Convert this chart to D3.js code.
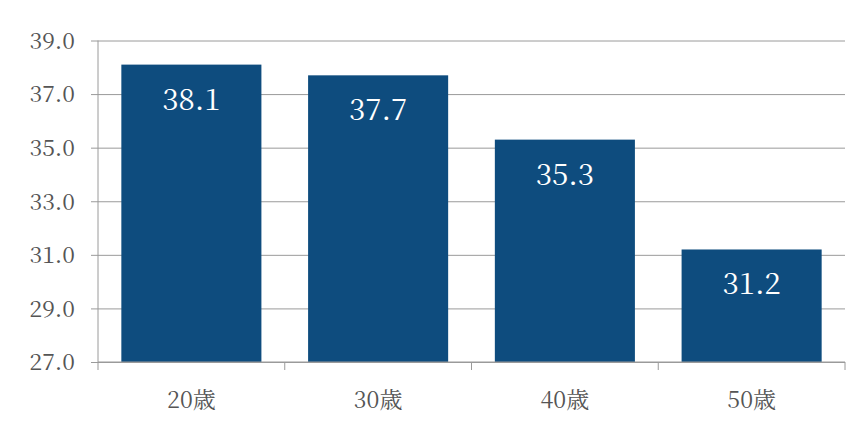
<!DOCTYPE html>
<html><head><meta charset="utf-8">
<script src="https://cdn.jsdelivr.net/npm/d3@7"></script>
<style>body{margin:0;background:#fff}</style>
</head><body>
<svg id="c" width="868" height="428"></svg>
<script>
const categories = ["20歳", "30歳", "40歳", "50歳"];
const values = [38.1, 37.7, 35.3, 31.2];
const yTicks = [27, 29, 31, 33, 35, 37, 39];

(function () {
const svg = d3.select("#c");
const mLeft = 98, mRight = 845, mTop = 40.5, mBottom = 362;
const font = "'Noto Serif CJK JP', 'Liberation Serif', serif";

const x = d3.scaleBand().domain(categories).range([mLeft, mRight]).paddingInner(0.25).paddingOuter(0.125);
const y = d3.scaleLinear().domain([27, 39]).range([mBottom, mTop]);

// gridlines + y ticks
const yAxis = d3.axisLeft(y).tickValues(yTicks).tickSize(-(mRight - mLeft)).tickFormat(d3.format(".1f")).tickPadding(0);
const gy = svg.append("g").attr("transform", `translate(${mLeft},0)`).call(yAxis);
gy.select(".domain").remove();
gy.selectAll(".tick line").attr("x1", -7).attr("stroke", "#9a9a9a").attr("stroke-width", 1);
gy.selectAll(".tick text").attr("x", -23).attr("dy", "0.34em")
  .style("font-family", font).style("font-size", "23px").attr("fill", "#555");

// vertical axis line
svg.append("line").attr("x1", mLeft).attr("x2", mLeft).attr("y1", mTop).attr("y2", mBottom)
  .attr("stroke", "#9a9a9a");

// bars
svg.append("g").selectAll("rect").data(values).join("rect")
  .attr("x", (d, i) => x(categories[i]))
  .attr("width", x.bandwidth())
  .attr("y", d => y(d))
  .attr("height", d => y(27) - y(d))
  .attr("fill", "#0e4c7e");

// value labels
svg.append("g").selectAll("text").data(values).join("text")
  .attr("x", (d, i) => x(categories[i]) + x.bandwidth() / 2)
  .attr("y", d => y(d) + 45)
  .attr("text-anchor", "middle")
  .style("font-family", font).style("font-size", "29.5px").attr("fill", "#fff")
  .text(d => d.toFixed(1));

// x axis
const xb = d3.scaleBand().domain(categories).range([mLeft, mRight]);
svg.append("line").attr("x1", mLeft).attr("x2", mRight).attr("y1", mBottom).attr("y2", mBottom).attr("stroke", "#9a9a9a");
const bounds = [mLeft].concat(categories.map(c => xb(c) + xb.bandwidth()));
svg.append("g").selectAll("line").data(bounds).join("line")
  .attr("x1", d => d).attr("x2", d => d).attr("y1", mBottom).attr("y2", mBottom + 8)
  .attr("stroke", "#9a9a9a");
svg.append("g").selectAll("text").data(categories).join("text")
  .attr("x", d => xb(d) + xb.bandwidth() / 2)
  .attr("y", 408)
  .attr("text-anchor", "middle")
  .style("font-family", font).style("font-size", "23px").attr("fill", "#555")
  .text(d => d);
})();
</script>
</body></html>
